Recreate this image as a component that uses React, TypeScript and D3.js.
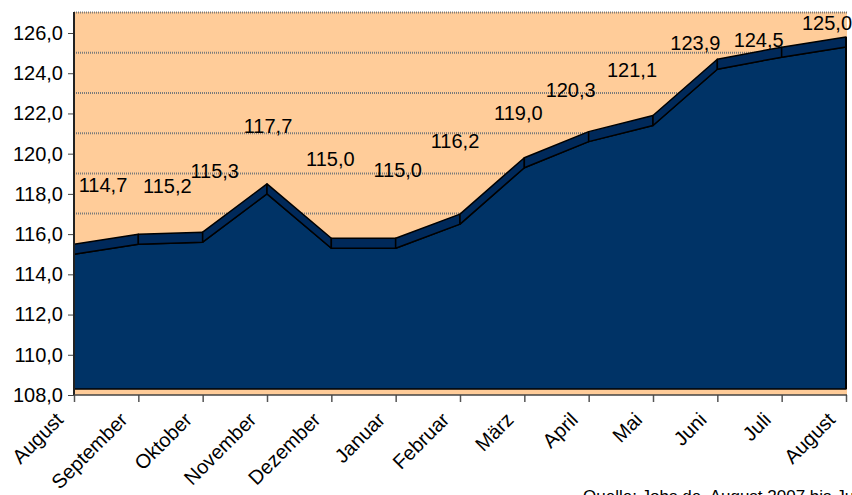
import React, { Component } from "react";
import * as d3 from "d3";

/** Month names on the x axis (Aug 2007 .. Aug 2008). */
const months = [
  "August", "September", "Oktober", "November", "Dezember", "Januar",
  "Februar", "März", "April", "Mai", "Juni", "Juli", "August",
];

/** Index values per month. */
const values = [
  114.7, 115.2, 115.3, 117.7, 115.0, 115.0, 116.2, 119.0, 120.3, 121.1,
  123.9, 124.5, 125.0,
];

/** Value axis ticks. */
const yTicks = [108, 110, 112, 114, 116, 118, 120, 122, 124, 126];

/** Data label nudges (px) from the back edge of the area, as laid out in the original. */
const labelShiftX = [29, 29, 12, 1, -1, 2, -5, -6, -18, -21, -22, -23, -19];
const labelShiftY = [-52, -41, -54, -51, -72, -61, -66, -38, -35, -39, -9, 0, -7];

const source = "Quelle: Jobs.de, August 2007 bis Juli 2008";

class App extends Component {
  svgRef = React.createRef<SVGSVGElement>();

  /** Style variables. */
  font = "'Liberation Sans', Arial, sans-serif";
  plotFill = "#FFCC99";
  frontFill = "#003366";
  topFill = "#00295a";

  componentDidMount() {
    this.drawChart();
  }

  drawChart() {
    const svg = d3.select(this.svgRef.current);
    svg.selectAll("*").remove();

    // Plot frame
    const left = 74,
      right = 846,
      plotRight = 847,
      top = 12,
      bottom = 395;
    // 3D offsets: front plane sits above the floor edge, top face has depth
    const floorLift = 6,
      depth = 10,
      wallLift = 20.5;

    const x = d3
      .scalePoint<number>()
      .domain(values.map((_, i) => i))
      .range([left, right]);
    const y = d3.scaleLinear().domain([108, 126]).range([bottom, 33]);
    const yFront = (v) => y(v) - floorLift;
    const yBack = (v) => yFront(v) - depth;

    const fmt = d3.formatLocale({
      decimal: ",",
      thousands: ".",
      grouping: [3],
      currency: ["", "€"],
    }).format(".1f");

    // Plot area background
    svg
      .append("rect")
      .attr("x", left)
      .attr("y", top)
      .attr("width", plotRight - left)
      .attr("height", bottom - top)
      .attr("fill", this.plotFill);

    // Back wall gridlines
    svg
      .append("g")
      .selectAll("line")
      .data(yTicks.slice(1))
      .join("line")
      .attr("x1", left)
      .attr("x2", plotRight)
      .attr("y1", (d) => y(d) - wallLift)
      .attr("y2", (d) => y(d) - wallLift)
      .attr("stroke", "#7a7a7a")
      .attr("stroke-width", 2)
      .attr("stroke-dasharray", "1,1");

    // Front face of the area
    const area = d3
      .area<number>()
      .x((d, i) => x(i))
      .y0(yFront(108))
      .y1((d) => yFront(d));
    svg
      .append("path")
      .attr("d", area(values))
      .attr("fill", this.frontFill)
      .attr("stroke", "#000")
      .attr("stroke-width", 1.5)
      .attr("stroke-linejoin", "round");

    // Top faces between neighbouring months
    const pts = values.map((v, i) => ({ i, v }));
    const face = d3.line();
    svg
      .append("g")
      .selectAll("path")
      .data(d3.pairs(pts))
      .join("path")
      .attr("d", ([a, b]) =>
        face([
          [x(a.i), yFront(a.v)],
          [x(b.i), yFront(b.v)],
          [x(b.i), yBack(b.v)],
          [x(a.i), yBack(a.v)],
        ]) + "Z"
      )
      .attr("fill", this.topFill)
      .attr("stroke", "#000")
      .attr("stroke-width", 1.5)
      .attr("stroke-linejoin", "round");

    // Right edge of the area
    const last = values.length - 1;
    svg
      .append("line")
      .attr("x1", x(last))
      .attr("x2", x(last))
      .attr("y1", yBack(values[last]))
      .attr("y2", yFront(108))
      .attr("stroke", "#000")
      .attr("stroke-width", 2);

    // Value axis
    const yAxis = svg
      .append("g")
      .attr("transform", `translate(${left},0)`)
      .call(
        d3
          .axisLeft(y)
          .tickValues(yTicks)
          .tickSize(6)
          .tickSizeOuter(0)
          .tickPadding(5)
          .tickFormat(fmt)
      );
    yAxis.select(".domain").remove();
    yAxis.selectAll(".tick line").attr("stroke", "#444");
    yAxis
      .selectAll(".tick text")
      .attr("font-family", this.font)
      .attr("font-size", 20)
      .attr("fill", "#000");
    svg
      .append("line")
      .attr("x1", left)
      .attr("x2", left)
      .attr("y1", top)
      .attr("y2", bottom)
      .attr("stroke", "#222")
      .attr("stroke-width", 2);

    // Category axis
    const xAxis = svg
      .append("g")
      .attr("transform", `translate(0,${bottom})`)
      .call(
        d3
          .axisBottom(x)
          .tickSize(7)
          .tickSizeOuter(0)
          .tickFormat((i) => months[i])
      );
    xAxis.select(".domain").remove();
    xAxis.selectAll(".tick line").attr("stroke", "#555").attr("stroke-width", 1.5);
    xAxis
      .selectAll(".tick text")
      .attr("x", 0)
      .attr("y", 0)
      .attr("dy", 0)
      .attr("transform", "translate(-10,26) rotate(-45)")
      .style("text-anchor", "end")
      .attr("font-family", this.font)
      .attr("font-size", 20)
      .attr("fill", "#000");
    svg
      .append("line")
      .attr("x1", left)
      .attr("x2", plotRight)
      .attr("y1", bottom)
      .attr("y2", bottom)
      .attr("stroke", "#444")
      .attr("stroke-width", 1.5);

    // Data labels
    svg
      .append("g")
      .selectAll("text")
      .data(values)
      .join("text")
      .attr("x", (d, i) => x(i) + labelShiftX[i])
      .attr("y", (d, i) => yBack(d) + labelShiftY[i])
      .attr("text-anchor", "middle")
      .attr("font-family", this.font)
      .attr("font-size", 20)
      .attr("fill", "#000")
      .text((d) => fmt(d));

    // Source note
    svg
      .append("text")
      .attr("x", 583)
      .attr("y", 502)
      .attr("font-family", this.font)
      .attr("font-size", 17)
      .attr("fill", "#000")
      .text(source);
  }

  render() {
    return (
      <svg
        ref={this.svgRef}
        width={852}
        height={495}
        style={{ position: "absolute", left: 0, top: 0, background: "#fff", overflow: "hidden" }}
      ></svg>
    );
  }
}

export default App;
